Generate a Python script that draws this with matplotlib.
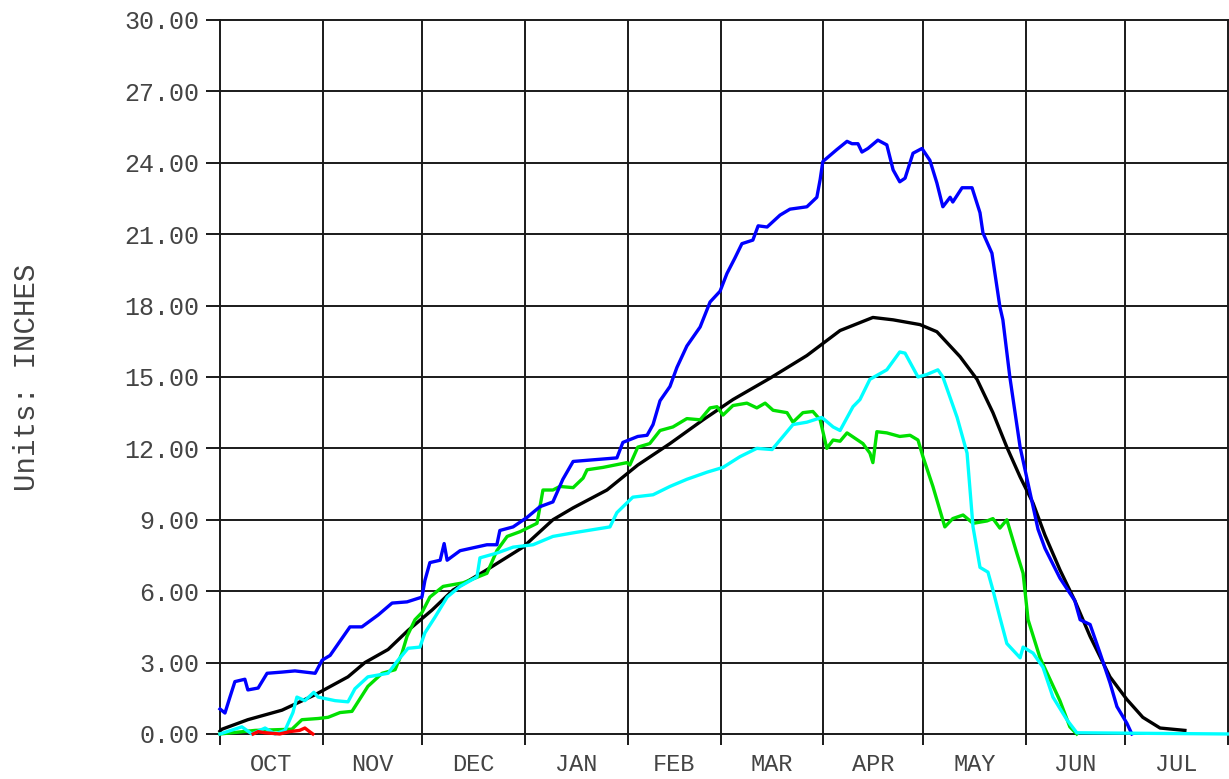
import numpy as np
import matplotlib
matplotlib.use('Agg')
import matplotlib.pyplot as plt

# day of water year (0 = Oct 1), snow water equivalent in inches
months = ['OCT', 'NOV', 'DEC', 'JAN', 'FEB', 'MAR', 'APR', 'MAY', 'JUN', 'JUL']
month_start = [0, 31, 61, 92, 123, 151, 182, 212, 243, 273, 304]

blue_day = [0, 1.5, 3, 4.5, 7.5, 8.4, 11.5, 14.2, 18.7, 22.6, 28.7, 30.8, 33.2, 39.2, 42.8,
            47.7, 51.9, 56.4, 60.9, 61.8, 63.3, 66.4, 67.6, 68.5, 72.4, 80.5, 83.5, 84.4,
            88.4, 92.6, 96.5, 100.4, 103.4, 106.5, 119.7, 121.5, 126, 128.8, 130.6, 132.7,
            135.7, 137.8, 140.8, 144.8, 147.8, 150.8, 152.9, 155.3, 157.4, 160.7, 162.3,
            165, 168.9, 171.9, 177, 180, 181, 181.8, 186, 189.1, 190.6, 192.4, 193.6, 195.4,
            198.4, 201.1, 203, 205, 206.6, 209, 211.7, 214.1, 216.2, 218, 220.2, 221, 223.8,
            226.8, 229.2, 230.1, 232.8, 235.2, 236.1, 238.2, 241.3, 246.7, 248.8, 253.3,
            257.8, 259.4, 262.4, 265.4, 268.4, 270.5, 273.5, 275]
blue_val = [1.05, 0.88, 1.55, 2.2, 2.3, 1.85, 1.93, 2.55, 2.6, 2.65, 2.55, 3.1, 3.3, 4.5, 4.5,
            5.0, 5.5, 5.55, 5.75, 6.45, 7.2, 7.3, 8.0, 7.3, 7.7, 7.95, 7.95, 8.55,
            8.7, 9.1, 9.55, 9.75, 10.7, 11.45, 11.6, 12.25, 12.5, 12.55, 13.0, 14.0,
            14.6, 15.4, 16.3, 17.1, 18.15, 18.6, 19.35, 20.0, 20.6, 20.75, 21.35,
            21.3, 21.8, 22.05, 22.15, 22.55, 23.3, 24.05, 24.55, 24.9, 24.8, 24.8, 24.45, 24.6,
            24.95, 24.75, 23.7, 23.2, 23.35, 24.4, 24.6, 24.1, 23.15, 22.15, 22.55, 22.35, 22.95,
            22.95, 21.9, 21.05, 20.2, 17.95, 17.4, 15.0, 12.05, 8.6, 7.8, 6.55,
            5.6, 4.8, 4.6, 3.4, 2.15, 1.15, 0.45, 0.0]

black_day = [0, 0.6, 8.4, 18.7, 28.7, 38.6, 43.7, 50.7, 56.7, 63.9, 70.3, 80.5, 91.4, 100.4,
             106.5, 116.7, 126, 135.7, 145.7, 154.7, 165.9, 177, 187, 196.9, 203, 211.1,
             216.2, 223.2, 228.3, 233.1, 237.3, 241.3, 245.2, 248.8, 253.3, 257.8, 262.4,
             268.4, 273.5, 278.3, 283.5, 291]
black_val = [0.12, 0.2, 0.6, 1.0, 1.65, 2.4, 3.0, 3.55, 4.35, 5.2, 6.05, 6.9, 7.85, 9.0,
             9.5, 10.25, 11.3, 12.2, 13.2, 14.05, 14.95, 15.9, 16.95, 17.5, 17.4, 17.2,
             16.9, 15.85, 14.9, 13.5, 12.05, 10.8, 9.7, 8.35, 6.9, 5.6, 4.1,
             2.4, 1.45, 0.7, 0.25, 0.15]

green_day = [0, 10.6, 21.7, 24.7, 29.6, 32.6, 36.2, 39.8, 44.6, 48.9, 52.8, 54.9, 56.4, 58.8,
             60.9, 63.3, 67.3, 73.3, 80.5, 83.5, 86.6, 90.5, 95.6, 96.5, 97.4, 100.4, 102.5,
             106.5, 109.5, 110.7, 115.5, 122.7, 123.6, 126, 129.6, 132.7, 136.6, 140.8, 144.8,
             147.8, 149.9, 151.7, 154.7, 158.9, 161.9, 164.4, 166.8, 171, 172.8, 175.8, 178.8,
             181, 183, 184.9, 187, 189.1, 193.9, 196, 196.9, 198.1, 201.1, 205, 208.1, 210.5,
             212, 215, 218.6, 221, 224.1, 227.1, 231.3, 233.1, 235.2, 237.3, 240.3, 242.2,
             243.7, 247.3, 250.3, 253.3, 256.3, 258.4]
green_val = [0.0, 0.15, 0.2, 0.6, 0.65, 0.7, 0.9, 0.95, 2.0, 2.55, 2.7, 3.4, 4.1, 4.8,
             5.1, 5.75, 6.2, 6.35, 6.75, 7.7, 8.3, 8.5, 8.85, 9.55, 10.25, 10.25, 10.4,
             10.35, 10.75, 11.1, 11.2, 11.4, 11.3, 12.05, 12.2, 12.75, 12.9, 13.25, 13.2,
             13.7, 13.75, 13.4, 13.8, 13.9, 13.7, 13.9, 13.6, 13.5, 13.1, 13.5, 13.55,
             13.2, 12.0, 12.35, 12.3, 12.65, 12.2, 11.8, 11.4, 12.7, 12.65, 12.5, 12.55, 12.35,
             11.65, 10.4, 8.7, 9.05, 9.2, 8.85, 8.95, 9.05, 8.65, 9.0, 7.6, 6.75,
             4.8, 3.2, 2.3, 1.4, 0.3, 0.0]

cyan_day = [0, 6.6, 9.6, 13.6, 16.6, 19.6, 22, 23.2, 25.6, 28.3, 29.6, 34.7, 38.6, 40.7, 44.6,
            50.7, 53.4, 56.7, 60.3, 61.8, 64.8, 68.5, 72.4, 77.5, 78.4, 83.5, 88.4, 94.4,
            100.4, 106.5, 117.6, 119.7, 124.5, 130.6, 135.7, 140.8, 146.9, 151.7, 156.8,
            161.9, 166.5, 169.8, 172.8, 177, 181.5, 184.9, 187, 190.9, 193, 196, 201.1, 205,
            206.6, 210.5, 213.1, 216.5, 218, 222.3, 225.3, 227.1, 229.2, 231.6, 233.1, 235.2,
            237.3, 241.3, 242.2, 245.2, 248.2, 251.2, 255.4, 258.4, 304]
cyan_val = [0.0, 0.3, 0.0, 0.25, 0.0, 0.15, 0.9, 1.55, 1.4, 1.75, 1.55, 1.4, 1.35, 1.9, 2.4,
            2.55, 3.05, 3.6, 3.65, 4.25, 4.9, 5.75, 6.2, 6.6, 7.4, 7.6, 7.85, 7.95,
            8.3, 8.45, 8.7, 9.3, 9.95, 10.05, 10.4, 10.7, 11.0, 11.2, 11.65,
            12.0, 11.95, 12.5, 13.0, 13.1, 13.3, 12.9, 12.75, 13.75, 14.05, 14.9, 15.3, 16.05,
            16.0, 15.0, 15.1, 15.3, 15.0, 13.3, 11.8, 8.7, 7.0, 6.8, 6.05, 4.9,
            3.8, 3.2, 3.65, 3.4, 2.8, 1.55, 0.6, 0.05, 0.0]

red_day = [10, 11.5, 13.6, 18, 21, 24, 25.6, 27, 28]
red_val = [0.0, 0.1, 0.05, 0.0, 0.1, 0.15, 0.25, 0.1, 0.0]

font = 'Liberation Mono'
txt_color = '#444444'

fig = plt.figure(figsize=(12.29, 7.79), dpi=100)
ax = fig.add_axes([0.179, 0.0578, 0.8202, 0.9166])

# grid
for y in np.arange(3, 30, 3):
    ax.axhline(y, color='#1a1a1a', lw=1.4, zorder=1)
for d in month_start[1:-1]:
    ax.axvline(d, color='#1a1a1a', lw=1.4, zorder=1)

ax.plot(black_day, black_val, color='black', lw=2.4, zorder=3, clip_on=False)
ax.plot(green_day, green_val, color='#00e000', lw=2.4, zorder=4, clip_on=False)
ax.plot(blue_day, blue_val, color='#0000ff', lw=2.4, zorder=5, clip_on=False)
ax.plot(cyan_day, cyan_val, color='#00ffff', lw=2.4, zorder=6, clip_on=False)
ax.plot(red_day, red_val, color='#ff0000', lw=2.4, zorder=7, clip_on=False)

ax.set_xlim(0, 304)
ax.set_ylim(0, 30)

ax.set_yticks(np.arange(0, 31, 3))
ax.set_yticklabels(['%.2f' % v for v in np.arange(0, 31, 3)], fontfamily=font,
                   fontsize=18, color=txt_color)
ax.tick_params(axis='y', direction='out', length=10, width=1.4, pad=5, color='#1a1a1a')

ax.set_xticks(month_start)
ax.set_xticklabels([])
centers = [(month_start[i] + month_start[i + 1]) / 2 for i in range(len(months))]
ax.set_xticks(centers, minor=True)
ax.set_xticklabels(months, minor=True, fontfamily=font, fontsize=17, color=txt_color)
ax.tick_params(axis='x', which='major', direction='out', length=8, width=1.4, color='#1a1a1a')
ax.tick_params(axis='x', which='minor', length=0, pad=14)

for s in ax.spines.values():
    s.set_color('#1a1a1a')
    s.set_linewidth(1.4)

ax.set_ylabel('Units: INCHES', fontfamily=font, fontsize=21, color=txt_color, labelpad=0)
ax.yaxis.set_label_coords(-0.178, 0.5)

fig.savefig('out.png', dpi=100)
